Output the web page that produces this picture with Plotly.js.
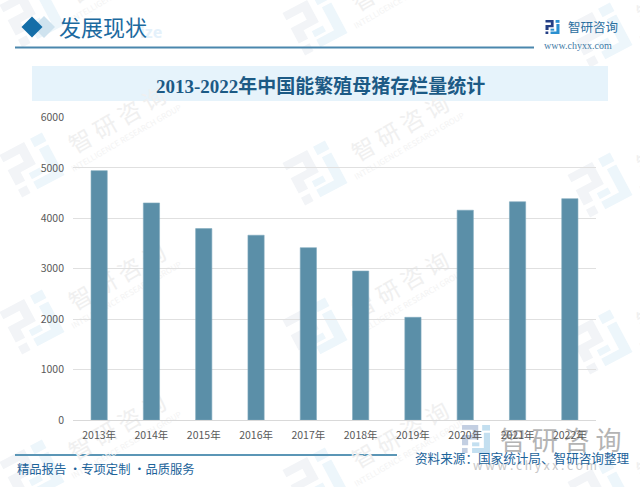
<!DOCTYPE html>
<html><head><meta charset="utf-8">
<script src="https://cdn.plot.ly/plotly-3.0.1.min.js"></script>
<style>html,body{margin:0;padding:0;background:#fff;overflow:hidden}#c{width:640px;height:487px}</style>
</head><body><div id="c"></div>
<script>
const years = ['2013年','2014年','2015年','2016年','2017年','2018年','2019年','2020年','2021年','2022年'];
const stock = [4946,4305,3796,3665,3418,2955,2037,4161,4329,4390];
const yTicks = [0,1000,2000,3000,4000,5000,6000];
const chartTitle = '2013-2022年中国能繁殖母猪存栏量统计';
const W = 640, H = 487;
// watermark logo centres in page pixels
const markCols = [32, 315, 600];
const markRows = [15, 165, 322, 472];
const markDrift = [0, 8, 20];

const px = x => x / W, py = y => 1 - y / H;
const SANS = '"Noto Sans CJK SC","Noto Sans",sans-serif';
const SERIF = '"Liberation Serif","Noto Sans CJK SC",serif';

const logoDark = [[[0,0],[.58,0],[.58,.52],[.22,.52],[.22,.72],[0,.72],[0,.36],[.38,.36],[.38,.17],[0,.17]],[[0,.82],[.2,.82],[.2,1],[0,1]]];
const logoLight = [[[.72,0],[1,0],[1,.2],[.72,.2]],[[.78,.28],[1,.28],[1,1],[.36,1],[.36,.82],[.78,.82]],[[.36,.62],[.62,.62],[.62,.76],[.36,.76]]];
function poly(points, cx, cy, size, deg) {
  const a = deg * Math.PI / 180;
  return points.map((p, i) => {
    const u = (p[0] - .5) * size, v = (p[1] - .5) * size;
    const X = cx + u * Math.cos(a) - v * Math.sin(a), Y = cy + u * Math.sin(a) + v * Math.cos(a);
    return (i ? 'L' : 'M') + px(X).toFixed(5) + ',' + py(Y).toFixed(5);
  }).join('') + 'Z';
}
function logo(cx, cy, size, deg, c1, c2) {
  const mk = (pts, c) => ({type:'path', xref:'paper', yref:'paper', layer:'below', path:poly(pts,cx,cy,size,deg), fillcolor:c, line:{width:0}});
  return logoDark.map(p => mk(p, c1)).concat(logoLight.map(p => mk(p, c2)));
}
function rect(x0, y0, x1, y1, color) {
  return {type:'rect', xref:'paper', yref:'paper', layer:'below', x0:px(x0), x1:px(x1), y0:py(y1), y1:py(y0), fillcolor:color, line:{width:0}};
}
function diamond(cx, cy, r, color) {
  return {type:'path', xref:'paper', yref:'paper', layer:'below', fillcolor:color, line:{width:0},
    path:`M${px(cx-r)},${py(cy)}L${px(cx)},${py(cy-r)}L${px(cx+r)},${py(cy)}L${px(cx)},${py(cy+r)}Z`};
}
function label(text, x, y, size, color, opts) {
  return Object.assign({text, x:px(x), y:py(y), xref:'paper', yref:'paper', showarrow:false, xanchor:'left', yanchor:'middle',
    font:{size, color, family:SANS}, borderpad:0}, opts || {});
}

let shapes = [], marks = [];
markCols.forEach((cx, c) => markRows.forEach(ry => {
  const cy = ry + markDrift[c];
  shapes = shapes.concat(logo(cx, cy, 48, -28, '#f2f4f7', '#edf6fb'));
  marks.push(label('智 研 咨 询', cx + 84, cy - 46, 23, '#f0f0f0', {xanchor:'center', textangle:-30, font:{size:23, color:'#f0f0f0', family:SANS}}));
  marks.push(label('INTELLIGENCE RESEARCH GROUP', cx + 94, cy - 28, 8, '#f3f3f3', {xanchor:'center', textangle:-30}));
}));
shapes = shapes.concat(logo(476, 439, 28, 0, '#c3cfe2', '#c3dff0'));
marks.push(label('智 研 咨 询', 560, 438, 26, '#b4b4b4', {xanchor:'center'}));
marks.push(label('w w w . c h y x x . c o m', 535, 464, 12, '#c8c8c8', {xanchor:'center'}));

shapes = shapes.concat([
  diamond(44, 27, 11, '#cfe3ef'),
  diamond(32, 27, 10.5, '#146ea8'),
  rect(15, 46.5, 534, 48.5, '#4b87ad'),
  rect(32, 66, 608, 101, '#e6f3fb'),
  rect(15, 454, 397, 456, '#5b96b6')
], logo(552.5, 27, 14, 0, '#243f85', '#2a8fd0'));

const texts = [
  label('ize', 139, 32, 16, '#e4f1fb', {font:{size:16, color:'#e4f1fb', family:'"Noto Sans",sans-serif', weight:700}}),
  label('发展现状', 58, 26, 22, '#1b6aa0', {font:{size:22, color:'#1b6aa0', family:'"Noto Sans CJK SC",serif'}}),
  label(chartTitle, 320, 86, 19, '#1c5a85', {xanchor:'center', font:{size:19, color:'#1c5a85', family:SERIF, weight:700}}),
  label('智研咨询', 567, 27, 12.5, '#2b6f9f'),
  label('www.chyxx.com', 543, 45.5, 10, '#3f7ba6', {font:{size:10, color:'#3f7ba6', family:SERIF}}),
  label('精品报告 ·专项定制 ·品质服务', 16, 469, 12.3, '#1c639a'),
  label('资料来源：国家统计局、智研咨询整理', 414, 457, 12.6, '#1c639a')
];

Plotly.newPlot('c', [{
  type:'bar', x:years, y:stock, marker:{color:'#5b8fa8', line:{color:'#7fa9bd', width:0.6}}, hoverinfo:'x+y'
}], {
  width:W, height:H, margin:{l:0,r:0,t:0,b:0,pad:0}, paper_bgcolor:'#fff', plot_bgcolor:'rgba(0,0,0,0)',
  showlegend:false, bargap:0.69,
  font:{family:SANS, size:10.5, color:'#595959'},
  xaxis:{domain:[px(73), px(596)], type:'category', tickmode:'array', tickvals:years, ticktext:years, showgrid:false,
    showline:false, ticks:'', ticklen:0, ticklabelstandoff:7, automargin:false, tickfont:{size:10.5, color:'#595959'}, zeroline:false},
  yaxis:{domain:[py(420), py(117.5)], range:[0,6000], tickmode:'array', tickvals:yTicks, showgrid:true, gridcolor:'#e0e0e0', gridwidth:1,
    zeroline:true, zerolinecolor:'#d9d9d9', zerolinewidth:1, showline:false, ticks:'', ticklabelstandoff:8, automargin:false, tickfont:{size:10.5, color:'#595959'}},
  shapes, annotations: marks.concat(texts)
}, {displayModeBar:false, staticPlot:true}).then(gd => {
  // the watermarks lie under the bars, as in the reference
  const below = gd.querySelector('.layer-below');
  gd.querySelectorAll('.annotation').forEach((g, i) => { if (i < marks.length) below.appendChild(g); });
});
</script></body></html>
